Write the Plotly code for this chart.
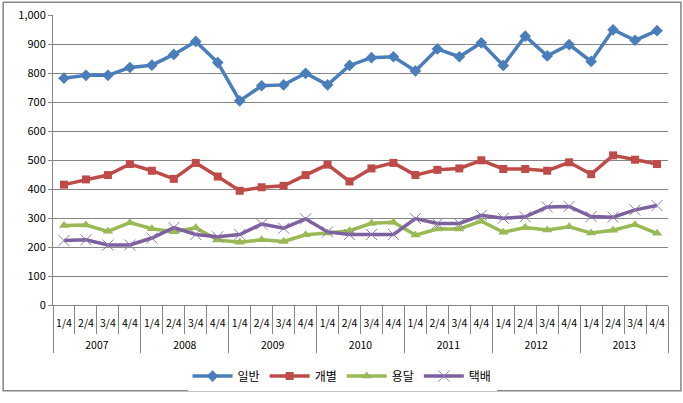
import plotly.graph_objects as go

years = ['2007', '2008', '2009', '2010', '2011', '2012', '2013']
quarters = ['1/4', '2/4', '3/4', '4/4']

# quarterly values
ilban = [782, 792, 792, 819, 827, 864, 909, 836, 704, 756, 759, 799, 759, 826,
         853, 856, 807, 883, 856, 904, 826, 927, 859, 898, 840, 949, 913, 946]
gaebyeol = [415, 433, 448, 486, 463, 435, 490, 443, 394, 406, 411, 448, 484, 426,
            471, 490, 448, 466, 471, 499, 469, 469, 463, 492, 451, 516, 501, 486]
yongdal = [274, 276, 254, 284, 263, 253, 266, 224, 216, 225, 219, 242, 248, 256,
           282, 285, 241, 262, 262, 289, 251, 267, 259, 270, 248, 258, 277, 247]
taekbae = [222, 225, 207, 207, 231, 267, 243, 235, 243, 279, 265, 297, 252, 243,
           243, 243, 298, 281, 281, 309, 299, 304, 338, 340, 305, 303, 328, 343]

# year labels get an empty first line so they sit lower, like the original
x_year = ['<br>' + y for y in years for q in quarters]
x_q = [q for y in years for q in quarters]

series = [
    ('일반', ilban, '#4A7EBB', 'diamond', 9),
    ('개별', gaebyeol, '#BE4B48', 'square', 8),
    ('용달', yongdal, '#98B954', 'triangle-up', 9),
    ('택배', taekbae, '#7D60A0', 'x-thin', 11),
]

fig = go.Figure()
for name, vals, col, sym, sz in series:
    if sym == 'x-thin':
        mk = dict(symbol=sym, size=sz, color=col, line=dict(color='#8D78B0', width=1))
    else:
        mk = dict(symbol=sym, size=sz, color=col)
    fig.add_trace(go.Scatter(x=[x_year, x_q], y=vals, name=name, mode='lines+markers',
                             line=dict(color=col, width=3.5), marker=mk))

# outer frame of the chart
fig.add_shape(type='rect', xref='paper', yref='paper',
              x0=-0.081, x1=1.021, y0=-0.296, y1=1.044,
              line=dict(color='#868686', width=1.5))

fig.update_layout(
    width=683, height=403,
    margin=dict(l=53, r=15, t=15, b=91),
    paper_bgcolor='white', plot_bgcolor='white',
    font=dict(family='Noto Sans CJK KR, DejaVu Sans', size=11, color='#000000'),
    showlegend=True,
    legend=dict(orientation='h', x=0.47, xanchor='center', y=-0.245, yanchor='middle',
                font=dict(size=12), itemwidth=40, tracegroupgap=0),
    xaxis=dict(type='multicategory', range=[-0.5, 27.5], showline=True, linecolor='#868686',
               ticks='outside', tickson='boundaries', ticklen=28, tickcolor='#868686',
               showdividers=True, dividercolor='#868686', dividerwidth=1,
               showgrid=False, tickangle=0, automargin=False, ticklabelstandoff=8,
               tickfont=dict(size=10.5)),
    yaxis=dict(range=[0, 1000], dtick=100, tickformat=',', showgrid=True,
               gridcolor='#868686', gridwidth=1, showline=True, linecolor='#868686',
               ticks='outside', ticklen=4, tickcolor='#868686', zeroline=False,
               automargin=False, tickfont=dict(size=11)),
)

# drop the browser's default body margin so the chart sits at the page corner
fig.write_html('out.html', config={'displayModeBar': False},
               post_script="document.body.style.margin='0';")
